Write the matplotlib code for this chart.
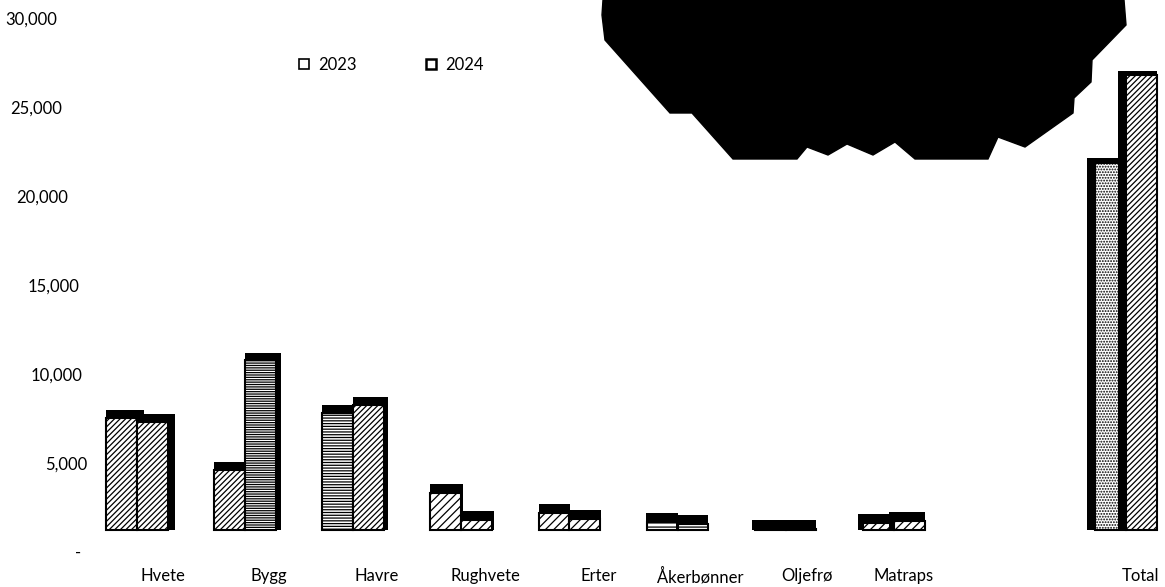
import matplotlib
matplotlib.use("Agg")
import matplotlib.pyplot as plt
from matplotlib.patches import Polygon
from matplotlib.lines import Line2D

# data
categories = ["Hvete", "Bygg", "Havre", "Rughvete", "Erter", "Åkerbønner", "Oljefrø", "Matraps", "Total"]
values_2023 = [6300, 3380, 6580, 2080, 960, 450, 60, 390, 20650]
values_2024 = [6080, 9570, 7030, 560, 620, 340, 60, 510, 25600]
series_names = ["2023", "2024"]
y_ticks = [0, 5000, 10000, 15000, 20000, 25000, 30000]
y_tick_labels = ["-", "5,000", "10,000", "15,000", "20,000", "25,000", "30,000"]

# layout and style
W, H = 1165, 587
x_pos = [0, 1, 2, 3, 4, 5, 6, 7, 9.15]
label_shift = [0.24, 0.22, 0.22, 0.22, 0.27, 0.21, 0.2, 0.09, 0.13]
ylabel_right = [81, 87, 82, 79, 68, 62, 57]   # right edge of y labels, px
hatch_2023 = ["//////", "//////", "------", "////", "////", "----", "////", "////", "......"]
hatch_2024 = ["//////", "-------", "//////", "////", "////", "----", "////", "////", "//////"]
floor = 1300
bar_w = 0.285
px_per_cat = 108.1

plt.rcParams["font.family"] = ["Lato", "DejaVu Sans"]
plt.rcParams["hatch.linewidth"] = 0.9

fig = plt.figure(figsize=(W / 100, H / 100), dpi=100)
ax_left = 95
ax = fig.add_axes([ax_left / W, 34 / H, (W - ax_left) / W, 533 / H])
ax.set_xlim((ax_left - 137) / px_per_cat, (W - 137) / px_per_cat)
ax.set_ylim(0, 30000)

for i, x in enumerate(x_pos):
    # perspective: side face on the right for left bars, on the left for Total
    dx = (7 - 1.636 * x) / px_per_cat
    for j, (vals, hatches) in enumerate([(values_2023, hatch_2023), (values_2024, hatch_2024)]):
        v = vals[i]
        left = x - bar_w if j == 0 else x
        dy = 500 - 0.01 * v
        ax.bar(left + min(dx, 0), v + dy, width=bar_w + abs(dx), bottom=floor,
               align="edge", color="black", linewidth=0)
        ax.bar(left, v, width=bar_w, bottom=floor, align="edge",
               facecolor="white", edgecolor="black", hatch=hatches[i], linewidth=1.5)

for s in ax.spines.values():
    s.set_visible(False)

ax.set_xticks([x + d for x, d in zip(x_pos, label_shift)])
ax.set_xticklabels(categories, fontsize=12)
ax.tick_params(axis="x", length=0, pad=11)
ax.set_yticks([])
for t, lab, r in zip(y_ticks, y_tick_labels, ylabel_right):
    ax.text((r - ax_left) / (W - ax_left), t, lab, transform=ax.get_yaxis_transform(),
            ha="right", va="center", fontsize=12, clip_on=False)

handles = [Line2D([], [], marker="s", linestyle="none", markersize=7,
                  markerfacecolor="white", markeredgecolor="black", markeredgewidth=w)
           for w in (1.2, 1.8)]
fig.legend(handles, series_names, loc="center left", bbox_to_anchor=(297 / W, 1 - 65 / H),
           ncol=2, frameon=False, fontsize=12, handlelength=0.8, handletextpad=0.5,
           columnspacing=4, borderaxespad=0, borderpad=0)

# black shape covering the top of the picture
blob = [(603, 0), (602, 15), (605, 40), (670, 113), (692, 113), (733, 159), (797, 159),
        (807, 147), (828, 155), (847, 144), (873, 155), (895, 142), (915, 159), (988, 159),
        (998, 137), (1025, 147), (1073, 113), (1074, 98), (1091, 82), (1092, 60),
        (1126, 25), (1124, 0)]
fig.add_artist(Polygon([(px / W, 1 - py / H) for px, py in blob], closed=True,
                       facecolor="black", edgecolor="black", transform=fig.transFigure))

fig.savefig("out.png", dpi=100)
